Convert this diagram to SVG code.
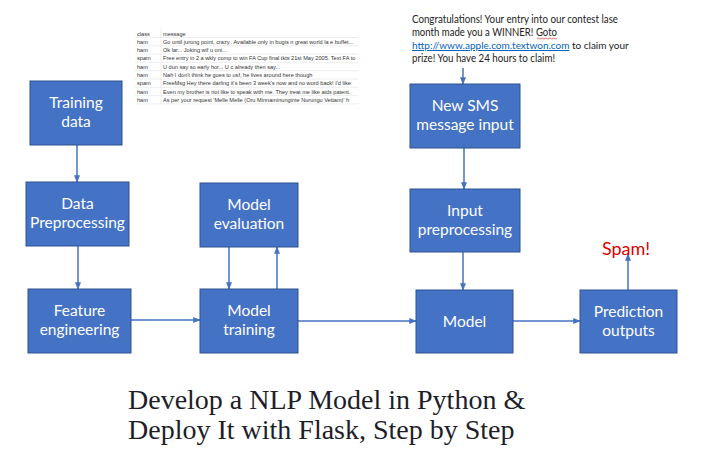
<svg xmlns="http://www.w3.org/2000/svg" width="721" height="454" viewBox="0 0 721 454">
<style>
.box{fill:#4472C4;stroke:#2F528F;stroke-width:1}
.bt{font-family:Lato,"Open Sans",sans-serif;font-size:15.5px;fill:#fff;text-anchor:middle}
.con{stroke:#4472C4;stroke-width:1.5;fill:none;marker-end:url(#ah)}
.tb{font-family:"Liberation Sans",Arial,sans-serif;font-size:5.6px;fill:#333}
.grid{stroke:#e3e3e3;stroke-width:0.6}
.sms{font-family:Lato,"Open Sans",sans-serif;font-size:11px;fill:#222}
.title{font-family:"Liberation Serif","DejaVu Serif",serif;font-size:28px;fill:#1e1e2a}
</style>
<defs>
<marker id="ah" viewBox="0 0 10 10" refX="9" refY="5" markerWidth="5" markerHeight="5" orient="auto"><path d="M0,1 L10,5 L0,9 z" fill="#4472C4"/></marker>
<clipPath id="tclip"><rect x="130" y="28" width="228" height="80"/></clipPath>
</defs>
<rect width="721" height="454" fill="#fff"/>
<g id="table" clip-path="url(#tclip)">
<g class="grid">
<line x1="135" y1="37.5" x2="358" y2="37.5"/><line x1="135" y1="45.8" x2="358" y2="45.8"/><line x1="135" y1="54.1" x2="358" y2="54.1"/><line x1="135" y1="62.4" x2="358" y2="62.4"/><line x1="135" y1="70.7" x2="358" y2="70.7"/><line x1="135" y1="79" x2="358" y2="79"/><line x1="135" y1="87.3" x2="358" y2="87.3"/><line x1="135" y1="95.6" x2="358" y2="95.6"/><line x1="135" y1="103.9" x2="358" y2="103.9"/>
<line x1="161" y1="29" x2="161" y2="104"/>
</g>
<g class="tb">
<text x="137" y="35.5">class</text><text x="163" y="35.5">message</text>
<text x="137" y="43.8">ham</text><text x="163" y="43.8">Go until jurong point, crazy.. Available only in bugis n great world la e buffet...</text>
<text x="137" y="52.1">ham</text><text x="163" y="52.1">Ok lar... Joking wif u oni...</text>
<text x="137" y="60.4">spam</text><text x="163" y="60.4">Free entry in 2 a wkly comp to win FA Cup final tkts 21st May 2005. Text FA to</text>
<text x="137" y="68.7">ham</text><text x="163" y="68.7">U dun say so early hor... U c already then say...</text>
<text x="137" y="77">ham</text><text x="163" y="77">Nah I don't think he goes to usf, he lives around here though</text>
<text x="137" y="85.3">spam</text><text x="163" y="85.3">FreeMsg Hey there darling it's been 3 week's now and no word back! I'd like</text>
<text x="137" y="93.6">ham</text><text x="163" y="93.6">Even my brother is not like to speak with me. They treat me like aids patent.</text>
<text x="137" y="101.9">ham</text><text x="163" y="101.9">As per your request 'Melle Melle (Oru Minnaminunginte Nurungu Vettam)' h</text>
</g>
</g>
<g id="sms-text" class="sms">
<text x="412" y="23" textLength="206" lengthAdjust="spacingAndGlyphs">Congratulations! Your entry into our contest lase</text>
<text x="412" y="36" textLength="145" lengthAdjust="spacingAndGlyphs">month made you a WINNER! Goto</text>
<text x="412" y="49" font-size="10"><tspan fill="#0563C1" text-decoration="underline">http://www.apple.com.textwon.com</tspan> to claim your</text>
<text x="412" y="62" textLength="143" lengthAdjust="spacingAndGlyphs">prize! You have 24 hours to claim!</text>
<path d="M537,38.5 q1,-1.2 2,0 t2,0 t2,0 t2,0 t2,0 t2,0 t2,0 t2,0 t2,0 t2,0" stroke="#e03030" stroke-width="0.7" fill="none"/>
</g>
<g id="connectors">
<line class="con" x1="77" y1="145" x2="77" y2="182"/>
<line class="con" x1="78" y1="246" x2="78" y2="289"/>
<line class="con" x1="131" y1="320" x2="200" y2="320"/>
<line class="con" x1="229" y1="247" x2="229" y2="289"/>
<line class="con" x1="277" y1="289" x2="277" y2="247"/>
<line class="con" x1="298" y1="321" x2="416" y2="321"/>
<line class="con" x1="463" y1="68" x2="463" y2="84"/>
<line class="con" x1="464" y1="148" x2="464" y2="189"/>
<line class="con" x1="463" y1="252" x2="463" y2="290"/>
<line class="con" x1="513" y1="321" x2="580" y2="321"/>
<line class="con" x1="628" y1="290" x2="628" y2="254"/>
</g>
<g id="training-data"><rect class="box" x="30" y="81" width="92" height="64"/><text class="bt" x="76" y="108">Training</text><text class="bt" x="76" y="127">data</text></g>
<g id="data-preprocessing"><rect class="box" x="26" y="182" width="103" height="64"/><text class="bt" x="77.5" y="209">Data</text><text class="bt" x="77.5" y="228">Preprocessing</text></g>
<g id="feature-engineering"><rect class="box" x="28" y="289" width="103" height="64"/><text class="bt" x="79.5" y="316">Feature</text><text class="bt" x="79.5" y="335">engineering</text></g>
<g id="model-evaluation"><rect class="box" x="200" y="183" width="98" height="64"/><text class="bt" x="249" y="210">Model</text><text class="bt" x="249" y="229">evaluation</text></g>
<g id="model-training"><rect class="box" x="200" y="289" width="98" height="64"/><text class="bt" x="249" y="316">Model</text><text class="bt" x="249" y="335">training</text></g>
<g id="new-sms"><rect class="box" x="410" y="84" width="110" height="64"/><text class="bt" x="465" y="111">New SMS</text><text class="bt" x="465" y="130">message input</text></g>
<g id="input-preprocessing"><rect class="box" x="410" y="189" width="110" height="63"/><text class="bt" x="465" y="216">Input</text><text class="bt" x="465" y="235">preprocessing</text></g>
<g id="model"><rect class="box" x="416" y="290" width="97" height="63"/><text class="bt" x="464.5" y="327">Model</text></g>
<g id="prediction-outputs"><rect class="box" x="580" y="290" width="97" height="63"/><text class="bt" x="628.5" y="317">Prediction</text><text class="bt" x="628.5" y="336">outputs</text></g>
<g id="spam-label"><text x="626" y="255" font-family="Lato,'Open Sans',sans-serif" font-size="18" fill="#e00000" text-anchor="middle">Spam!</text></g>
<g id="title" class="title">
<text x="128" y="409">Develop a NLP Model in Python &amp;</text>
<text x="128" y="439">Deploy It with Flask, Step by Step</text>
</g>
</svg>
